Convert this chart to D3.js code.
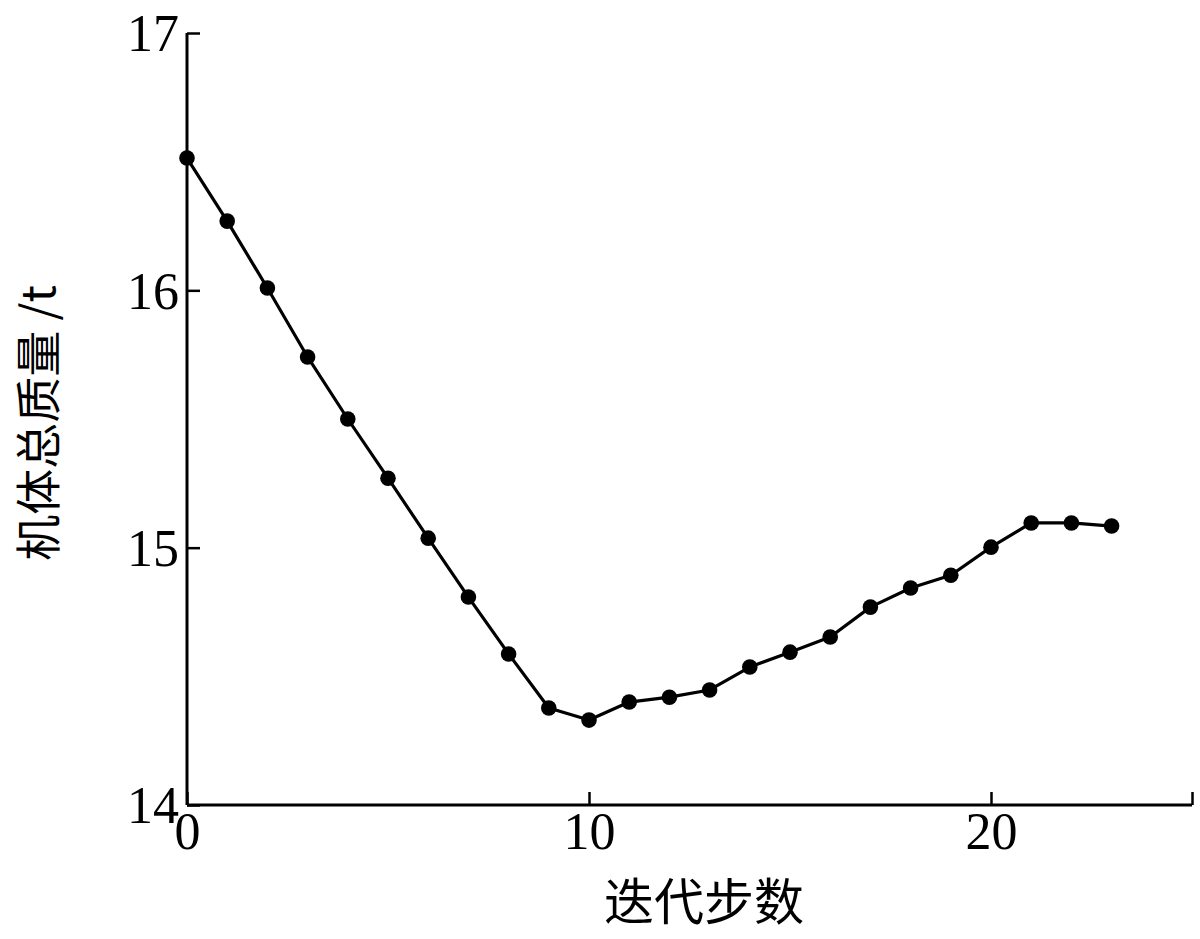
<!DOCTYPE html>
<html>
<head>
<meta charset="utf-8">
<script src="https://cdn.jsdelivr.net/npm/d3@7"></script>
<style>
  html, body { margin: 0; padding: 0; background: #fff; }
  svg { display: block; }
</style>
</head>
<body>
<svg id="chart" width="1200" height="939"></svg>
<script>
// ---- data ----
const steps = [0,1,2,3,4,5,6,7,8,9,10,11,12,13,14,15,16,17,18,19,20,21,22,23];
const mass = [16.514,16.269,16.009,15.741,15.500,15.270,15.037,14.808,14.587,14.377,14.330,
              14.400,14.419,14.447,14.536,14.594,14.653,14.769,14.843,14.893,15.002,15.096,15.096,15.084];
const xTicks = [0, 10, 20, 25];
const xTickLabels = ["0", "10", "20", ""];
const yTicks = [14, 15, 16, 17];
const yTickLabels = ["14", "15", "16", "17"];
const xTitle = "迭代步数";
const yTitle = "机体总质量 /t";

// ---- layout ----
const svg = d3.select("#chart");
const pLeft = 187, pRight = 1192, pTop = 33, pBottom = 805;
const x = d3.scaleLinear().domain([0, 25]).range([pLeft, pRight]);
const y = d3.scaleLinear().domain([14, 17]).range([pBottom, pTop]);
const numFont = "'Liberation Serif', 'DejaVu Serif', serif";
const cjkFont = "'Noto Sans CJK SC', sans-serif";

// x axis
const xAxis = d3.axisBottom(x).tickValues(xTicks).tickSize(-13)
  .tickFormat((d, i) => xTickLabels[i]).tickPadding(0);
const gx = svg.append("g").attr("transform", `translate(0,${pBottom})`).call(xAxis);
gx.select(".domain").attr("stroke", "#000").attr("stroke-width", 3).attr("d", `M${pLeft},0H${pRight}`);
gx.selectAll(".tick line").attr("stroke", "#000").attr("stroke-width", 2.5);
gx.selectAll(".tick text").attr("font-family", numFont).attr("font-size", 52)
  .attr("fill", "#000").attr("y", 44).attr("dy", 0);

// y axis
const yAxis = d3.axisLeft(y).tickValues(yTicks).tickSize(-13)
  .tickFormat((d, i) => yTickLabels[i]).tickPadding(0);
const gy = svg.append("g").attr("transform", `translate(${pLeft},0)`).call(yAxis);
gy.select(".domain").attr("stroke", "#000").attr("stroke-width", 3).attr("d", `M0,${pTop}V${pBottom}`);
gy.selectAll(".tick line").attr("stroke", "#000").attr("stroke-width", 2.5);
gy.selectAll(".tick text").attr("font-family", numFont).attr("font-size", 52)
  .attr("fill", "#000").attr("x", -8).attr("dy", "0.34em");

// line
const data = steps.map((s, i) => ({ s, v: mass[i] }));
const line = d3.line().x(d => x(d.s)).y(d => y(d.v)).curve(d3.curveLinear);
svg.append("path").datum(data).attr("d", line)
  .attr("fill", "none").attr("stroke", "#000").attr("stroke-width", 3.2)
  .attr("stroke-linejoin", "round");

// markers
svg.append("g").selectAll("circle").data(data).join("circle")
  .attr("cx", d => x(d.s)).attr("cy", d => y(d.v)).attr("r", 7.8).attr("fill", "#000");

// titles
svg.append("text").text(xTitle)
  .attr("x", 704).attr("y", 920)
  .attr("text-anchor", "middle").attr("font-family", cjkFont).attr("font-size", 50).attr("fill", "#000");

svg.append("text").text(yTitle)
  .attr("transform", "translate(55,423) rotate(-90)")
  .attr("text-anchor", "middle").attr("font-family", cjkFont).attr("font-size", 46).attr("fill", "#000");
</script>
</body>
</html>
